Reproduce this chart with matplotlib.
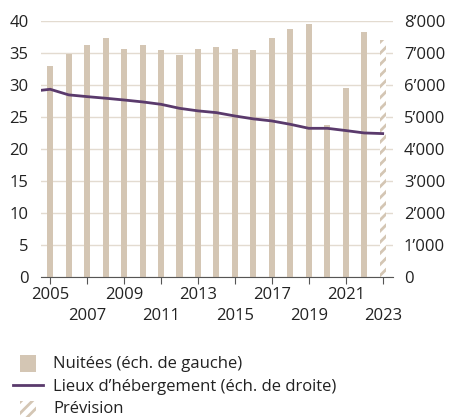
import matplotlib
matplotlib.use("Agg")
import matplotlib.pyplot as plt
from matplotlib.patches import Patch, Rectangle
from matplotlib.lines import Line2D
from matplotlib.legend_handler import HandlerPatch
from matplotlib.ticker import FuncFormatter

plt.rcParams['font.family'] = ['Open Sans', 'DejaVu Sans']
plt.rcParams['hatch.linewidth'] = 2.0

years = list(range(2005, 2024))
nuitees = [32.9, 34.9, 36.3, 37.3, 35.6, 36.2, 35.5, 34.7, 35.6, 35.9,
           35.6, 35.5, 37.3, 38.7, 39.5, 23.7, 29.5, 38.2, 37.1]
forecast_year = 2023

line_years = list(range(2004, 2024))
lieux = [5800, 5865, 5690, 5635, 5585, 5530, 5470, 5395, 5270, 5190, 5135,
         5030, 4940, 4875, 4770, 4645, 4645, 4575, 4500, 4480]

beige = "#d4c6b4"
purple = "#5a3a6c"
grid_c = "#e3dbd0"
txt = "#222222"

fig = plt.figure(figsize=(4.5, 4.19), dpi=100)
ax = fig.add_axes([0.091, 0.339, 0.782, 0.611])

for y, v in zip(years, nuitees):
    if y == forecast_year:
        ax.bar(y, v, width=0.33, facecolor="white", edgecolor=beige, hatch="///", linewidth=0, zorder=2)
    else:
        ax.bar(y, v, width=0.33, color=beige, zorder=2)

ax.set_xlim(2004.5, 2023.55)
ax.set_ylim(0, 40)
ax.set_yticks(range(0, 41, 5))
ax.grid(axis="y", color=grid_c, linewidth=1, zorder=0)
ax.set_axisbelow(True)
for s in ["top", "left", "right"]:
    ax.spines[s].set_visible(False)
ax.spines["bottom"].set_color("#555555")
ax.tick_params(axis="y", length=0, labelsize=12, pad=9, colors=txt)
xt = list(range(2005, 2024, 2))
ax.set_xticks(xt)
ax.set_xticklabels([str(y) if i % 2 == 0 else "\n" + str(y) for i, y in enumerate(xt)])
ax.tick_params(axis="x", length=5, color="#555555", labelsize=12, pad=2, labelcolor=txt)
for lab in ax.get_xticklabels():
    lab.set_linespacing(1.45)

ax2 = ax.twinx()
ax2.plot(line_years, lieux, color=purple, linewidth=2, zorder=3)
ax2.set_ylim(0, 8000)
ax2.set_yticks(range(0, 8001, 1000))
ax2.yaxis.set_major_formatter(FuncFormatter(lambda v, p: f"{int(v):,}".replace(",", "\u2019")))
ax2.tick_params(axis="y", length=0, labelsize=12, pad=8, colors=txt)
for s in ["top", "left", "right", "bottom"]:
    ax2.spines[s].set_visible(False)


def square(legend, orig_handle, xdescent, ydescent, width, height, fontsize):
    s = 12
    return Rectangle((width / 2 - s / 2, height / 2 - s / 2 - 1), s, s)


handles = [
    Patch(facecolor=beige, edgecolor="none"),
    Line2D([0], [0], color=purple, linewidth=2),
    Patch(facecolor="white", edgecolor=beige, hatch="///", linewidth=0),
]
labels = ["Nuitées (éch. de gauche)", "Lieux d’hébergement (éch. de droite)", "Prévision"]
hm = {handles[0]: HandlerPatch(patch_func=square), handles[2]: HandlerPatch(patch_func=square)}
fig.legend(handles, labels, loc="lower left", bbox_to_anchor=(0.0, -0.026), frameon=False,
           fontsize=12, handlelength=1.85, handletextpad=0.6, labelspacing=0.4,
           borderaxespad=0.35, labelcolor=txt, handler_map=hm)

fig.savefig("out.png", dpi=100)
